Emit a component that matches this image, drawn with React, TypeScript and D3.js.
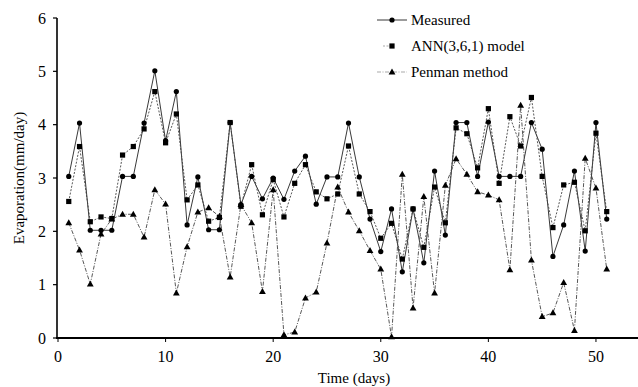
import React from 'react';
import * as d3 from 'd3';

const days = d3.range(1, 52);

const measured = [
  3.03, 4.03, 2.02, 2.02, 2.02, 3.03, 3.03, 4.03, 5.01, 3.7,
  4.62, 2.12, 3.02, 2.03, 2.03, 4.04, 2.5, 3.03, 2.61, 3.0,
  2.6, 3.13, 3.41, 2.51, 3.02, 3.02, 4.03, 3.02, 2.23, 1.62,
  2.42, 1.24, 2.42, 1.41, 3.13, 1.93, 4.04, 4.04, 3.03, 4.05,
  3.03, 3.03, 3.03, 4.04, 3.54, 1.53, 2.12, 3.13, 1.63, 4.04,
  2.23,
];

const ann = [
  2.56, 3.59, 2.18, 2.27, 2.24, 3.43, 3.59, 3.92, 4.62, 3.66,
  4.2, 2.59, 2.87, 2.19, 2.26, 4.04, 2.47, 3.25, 2.31, 2.97,
  2.27, 2.9, 3.25, 2.74, 2.61, 2.7, 3.6, 2.7, 2.37, 1.87,
  2.15, 1.48, 2.42, 1.7, 2.83, 2.16, 3.94, 3.83, 3.19, 4.3,
  2.9, 4.15, 3.6, 4.51, 3.03, 2.07, 2.87, 2.92, 2.01, 3.84,
  2.37,
];

const penman = [
  2.16, 1.65, 1.01, 1.95, 2.23, 2.32, 2.32, 1.89, 2.78, 2.51,
  0.84, 1.71, 2.36, 2.44, 2.28, 1.14, 2.5, 2.16, 0.87, 2.78,
  0.06, 0.11, 0.75, 0.86, 1.78, 2.83, 2.36, 2.01, 1.64, 1.29,
  0.02, 3.07, 0.56, 2.65, 0.84, 2.86, 3.36, 3.07, 2.74, 2.68,
  2.59, 1.28, 4.36, 1.46, 0.4, 0.47, 1.04, 0.14, 3.37, 2.81,
  1.29,
];

const xTicks = [0, 10, 20, 30, 40, 50];
const yTicks = [0, 1, 2, 3, 4, 5, 6];

const seriesNames = ['Measured', 'ANN(3,6,1) model', 'Penman method'];

const W = 638;
const H = 387;
const font = '"Liberation Serif", "Times New Roman", serif';

const x = d3.scaleLinear().domain([0, 54]).range([58, 639]);
const y = d3.scaleLinear().domain([0, 6]).range([338, 18]);

const line = d3.line<number>()
  .x((_, i) => x(days[i]))
  .y(d => y(d));

const Marker = ({ kind, cx, cy }: { kind: string; cx: number; cy: number }) => {
  if (kind === 'circle') return <circle cx={cx} cy={cy} r={2.6} fill="#000" />;
  if (kind === 'square') return <rect x={cx - 2.6} y={cy - 2.6} width={5.2} height={5.2} fill="#000" />;
  return <path d={`M${cx},${cy - 3.6}L${cx + 3.4},${cy + 2.4}L${cx - 3.4},${cy + 2.4}Z`} fill="#000" />;
};

const series = [
  { name: seriesNames[0], values: measured, kind: 'circle', dash: undefined as string | undefined, color: '#222' },
  { name: seriesNames[1], values: ann, kind: 'square', dash: '2,1.5', color: '#444' },
  { name: seriesNames[2], values: penman, kind: 'triangle', dash: '4,1.5,1,1.5', color: '#444' },
];

export default function App() {
  const legendX = 380;
  const legendY = [20, 46, 72];
  return (
    <svg width={W} height={H} style={{ position: 'absolute', left: 0, top: 0, background: '#fff' }} fontFamily={font}>
      {/* series lines */}
      {series.map(s => (
        <path key={s.name} d={line(s.values) || ''} fill="none" stroke={s.color}
          strokeWidth={0.9} strokeDasharray={s.dash} />
      ))}
      {series.map(s => (
        <g key={s.name + 'm'}>
          {s.values.map((v, i) => (
            <Marker key={i} kind={s.kind} cx={x(days[i])} cy={y(v)} />
          ))}
        </g>
      ))}

      {/* axes */}
      <line x1={57} x2={57} y1={y(6)} y2={y(0) + 1} stroke="#000" strokeWidth={1.6} />
      <line x1={56} x2={W} y1={y(0)} y2={y(0)} stroke="#000" strokeWidth={2} />
      {yTicks.map(t => (
        <g key={t}>
          <line x1={53} x2={57} y1={y(t)} y2={y(t)} stroke="#000" strokeWidth={1.2} />
          <text x={46} y={y(t)} dy="0.35em" textAnchor="end" fontSize={16}>{t}</text>
        </g>
      ))}
      {xTicks.map(t => (
        <g key={t}>
          <line x1={x(t)} x2={x(t)} y1={y(0)} y2={y(0) + 4} stroke="#000" strokeWidth={1} />
          <text x={x(t)} y={362} textAnchor="middle" fontSize={16}>{t}</text>
        </g>
      ))}
      <text x={354} y={383} textAnchor="middle" fontSize={15}>Time (days)</text>
      <text transform={`translate(24,${y(3)}) rotate(-90)`} textAnchor="middle" fontSize={15}>Evaporation(mm/day)</text>

      {/* legend */}
      {series.map((s, i) => (
        <g key={s.name + 'l'}>
          <line x1={i === 1 ? legendX + 3 : legendX - 3} x2={i === 1 ? legendX + 12 : legendX + 27}
            y1={legendY[i]} y2={legendY[i]} stroke={s.color}
            strokeWidth={0.9} strokeDasharray={s.dash} opacity={i === 0 ? 1 : 0.5} />
          <Marker kind={s.kind} cx={legendX + 12} cy={legendY[i]} />
          <text x={legendX + 31} y={legendY[i]} dy="0.35em" fontSize={15}>{s.name}</text>
        </g>
      ))}
    </svg>
  );
}
